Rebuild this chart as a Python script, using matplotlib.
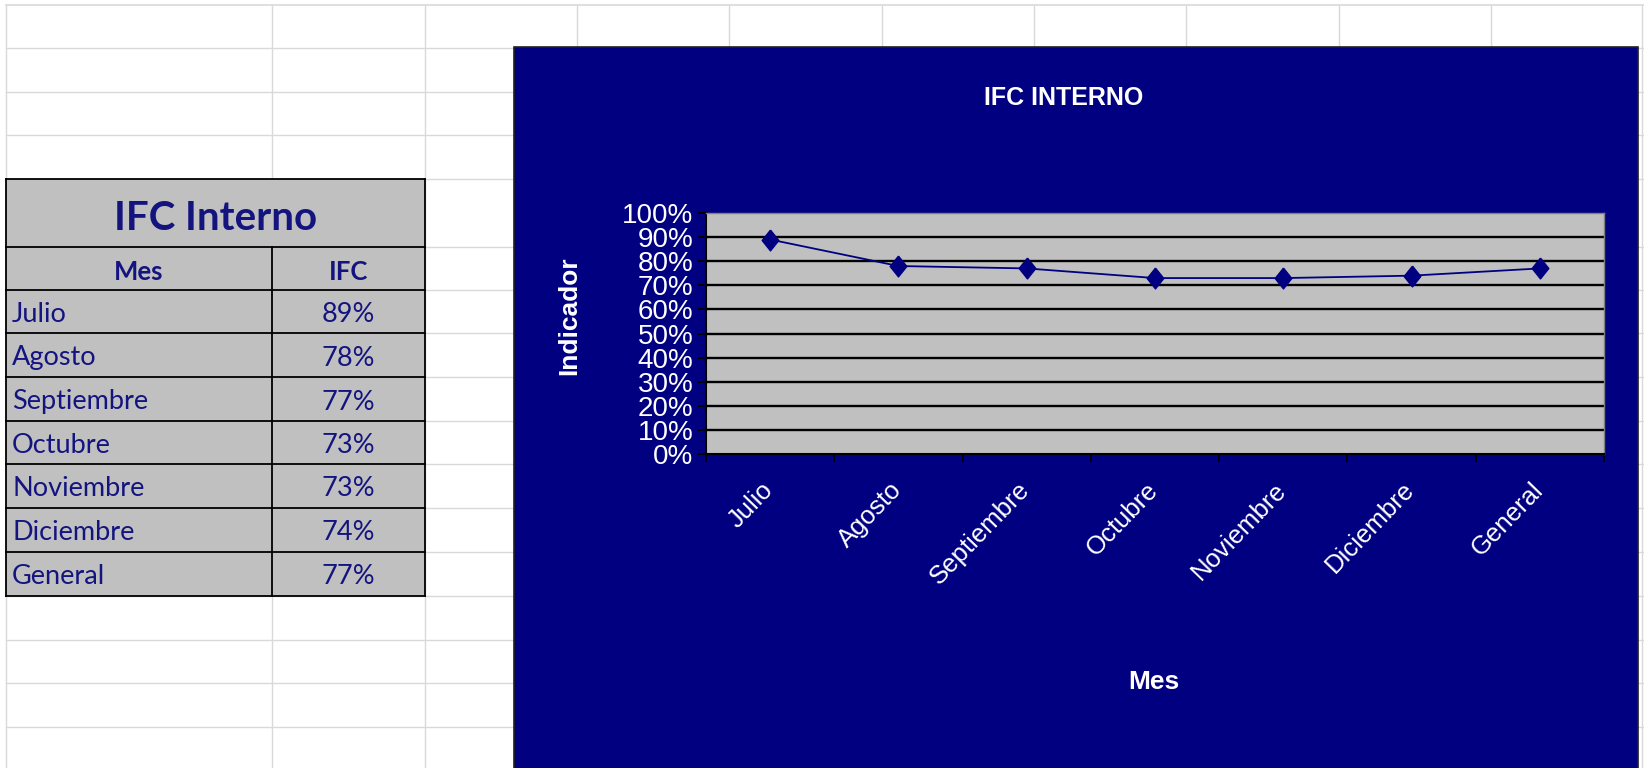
import matplotlib
matplotlib.use('Agg')
import matplotlib.pyplot as plt
import matplotlib.transforms as mtransforms
from matplotlib.patches import Rectangle
from matplotlib.ticker import FixedLocator, PercentFormatter

meses = ['Julio', 'Agosto', 'Septiembre', 'Octubre', 'Noviembre', 'Diciembre', 'General']
ifc = [0.89, 0.78, 0.77, 0.73, 0.73, 0.74, 0.77]
titulo_tabla = 'IFC Interno'
encabezados = ['Mes', 'IFC']
titulo_grafico = 'IFC INTERNO'
eje_x = 'Mes'
eje_y = 'Indicador'

W, H = 1644, 768
NAVY = '#000080'
GRIS = '#C0C0C0'
TXT = '#14147F'
arial = 'Liberation Sans'
cali = 'Lato'

fig = plt.figure(figsize=(W / 100, H / 100), dpi=100)
fig.patch.set_facecolor('white')

# hoja de calculo de fondo (coordenadas en pixeles)
bg = fig.add_axes([0, 0, 1, 1])
bg.set_xlim(0, W)
bg.set_ylim(H, 0)
bg.axis('off')

cols = [6, 272, 425, 577, 729, 882, 1034, 1186, 1339, 1491, 1642]
filas = [4.5, 48, 92, 135, 179, 247, 290, 333, 377, 421, 464, 508, 552, 596, 640, 683, 727]
for x in cols:
    bg.plot([x, x], [4.5, H], color='#D9D9D9', lw=1, zorder=1)
for y in filas:
    bg.plot([6, W], [y, y], color='#D9D9D9', lw=1.2 if y == 4.5 else 1, zorder=1)

# tabla
tx0, tx1, tx2 = 6, 272, 425
ty = [179, 247, 290, 333, 377, 421, 464, 508, 552, 596]
bg.add_patch(Rectangle((tx0, ty[0]), tx2 - tx0, ty[-1] - ty[0], facecolor=GRIS,
                       edgecolor='none', zorder=2))
for y in ty:
    bg.plot([tx0, tx2], [y, y], color='black', lw=1.3, zorder=3)
bg.plot([tx0, tx0], [ty[0], ty[-1]], color='black', lw=1.3, zorder=3)
bg.plot([tx2, tx2], [ty[0], ty[-1]], color='black', lw=1.3, zorder=3)
bg.plot([tx1, tx1], [ty[1], ty[-1]], color='black', lw=1.3, zorder=3)

bg.text((tx0 + tx2) / 2, (ty[0] + ty[1]) / 2 + 6, titulo_tabla, ha='center', va='center',
        fontsize=29, fontweight='bold', color=TXT, family=cali, zorder=4)
bg.text((tx0 + tx1) / 2, (ty[1] + ty[2]) / 2 + 4, encabezados[0], ha='center', va='center',
        fontsize=18.5, fontweight='bold', color=TXT, family=cali, zorder=4)
bg.text((tx1 + tx2) / 2, (ty[1] + ty[2]) / 2 + 4, encabezados[1], ha='center', va='center',
        fontsize=18.5, fontweight='bold', color=TXT, family=cali, zorder=4)
for i, (m, v) in enumerate(zip(meses, ifc)):
    yc = (ty[i + 2] + ty[i + 3]) / 2 + 3
    bg.text(tx0 + 6, yc, m, ha='left', va='center', fontsize=19.5, color=TXT,
            family=cali, zorder=4)
    bg.text((tx1 + tx2) / 2, yc, f'{v:.0%}', ha='center', va='center', fontsize=19.5,
            color=TXT, family=cali, zorder=4)

# area del grafico
bg.add_patch(Rectangle((514, 47), 1124, H - 47 + 5, facecolor=NAVY, edgecolor='#202020',
                       lw=1.2, zorder=5))
bg.text(1064, 98, titulo_grafico, ha='center', va='center', fontsize=18,
        fontweight='bold', color='white', family=arial, zorder=6)
bg.text(1154, 682, eje_x, ha='center', va='center', fontsize=19,
        fontweight='bold', color='white', family=arial, zorder=6)
bg.text(569, 316, eje_y, ha='center', va='center', rotation=90, fontsize=19,
        fontweight='bold', color='white', family=arial, zorder=6)

px0, px1, py0, py1 = 706, 1604, 213, 454
ax = fig.add_axes([px0 / W, 1 - py1 / H, (px1 - px0) / W, (py1 - py0) / H])
ax.set_facecolor(GRIS)

x = list(range(len(meses)))
ax.set_xlim(-0.5, len(meses) - 0.5)
ax.set_ylim(0, 1)

yt = [i / 10 for i in range(11)]
ax.hlines(yt[1:-1], -0.5, len(meses) - 0.5, colors='black', lw=1.7, zorder=1)

diamante = [(0, 1), (0.8, 0), (0, -1), (-0.8, 0), (0, 1)]
ax.plot(x, ifc, color=NAVY, lw=1.3, marker=diamante, markersize=15,
        markerfacecolor=NAVY, markeredgecolor=NAVY, zorder=3, clip_on=False)

ax.yaxis.set_major_locator(FixedLocator(yt))
ax.yaxis.set_major_formatter(PercentFormatter(1.0, decimals=0))
ax.tick_params(axis='y', direction='out', length=6, width=1.3, color='black',
               labelcolor='white', pad=3, labelsize=20)
for lab in ax.get_yticklabels():
    lab.set_family(arial)

ax.set_xticks(x)
ax.set_xticklabels(meses, rotation=46, ha='right', fontsize=18.5, color='white',
                   family=arial)
ax.xaxis.set_minor_locator(FixedLocator([i - 0.5 for i in range(len(meses) + 1)]))
ax.tick_params(axis='x', which='major', length=0, pad=17)
ax.tick_params(axis='x', which='minor', direction='out', length=6, width=1.3, color='black')
desplaza = mtransforms.ScaledTranslation(8 / 100, 0, fig.dpi_scale_trans)
for lab in ax.get_xticklabels():
    lab.set_transform(lab.get_transform() + desplaza)

for s in ['top', 'right']:
    ax.spines[s].set_color('#808080')
    ax.spines[s].set_linewidth(1)
for s in ['left', 'bottom']:
    ax.spines[s].set_color('black')
    ax.spines[s].set_linewidth(1.5)

fig.savefig('out.png', dpi=100)
